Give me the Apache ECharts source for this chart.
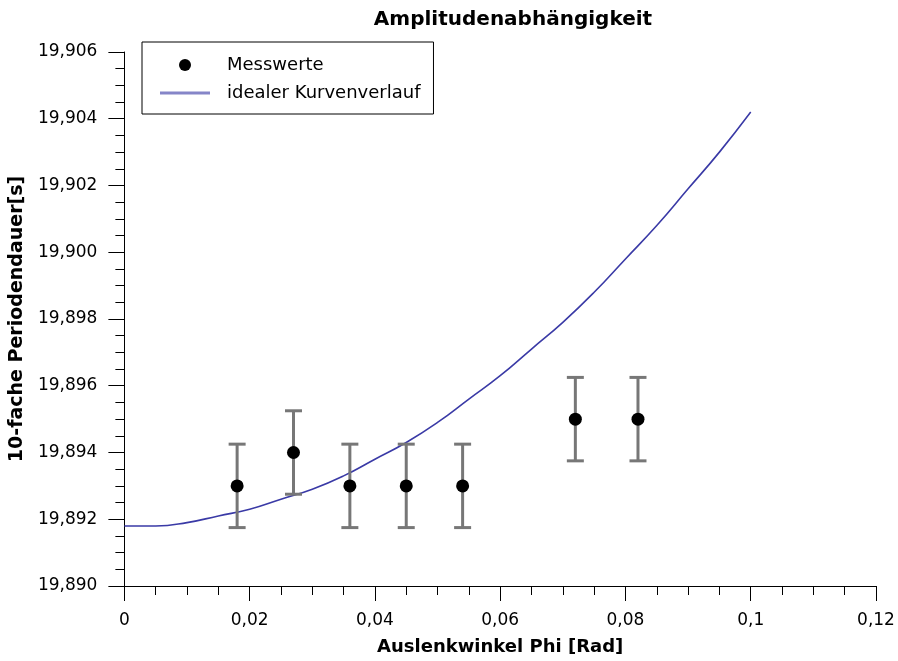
<!DOCTYPE html>
<html>
<head>
<meta charset="utf-8">
<script src="https://cdn.jsdelivr.net/npm/echarts@6/dist/echarts.min.js"></script>
<style>
  html, body { margin: 0; padding: 0; background: #fff; }
  #chart { width: 898px; height: 661px; }
</style>
</head>
<body>
<div id="chart"></div>
<script>
// Messwerte (Auslenkwinkel in rad, 10-fache Periodendauer in s)
const phiMess = [0.018, 0.027, 0.036, 0.045, 0.054, 0.072, 0.082];
const tMess = [19.893, 19.894, 19.893, 19.893, 19.893, 19.895, 19.895];
const tFehler = [0.00125, 0.00125, 0.00125, 0.00125, 0.00125, 0.00125, 0.00125];

// idealer Kurvenverlauf
const phiKurve = [0, 0.005, 0.01, 0.015, 0.02, 0.025, 0.03, 0.035, 0.04, 0.045, 0.05,
  0.055, 0.06, 0.065, 0.07, 0.075, 0.08, 0.085, 0.09, 0.095, 0.1];
const tKurve = [19.8918, 19.8918, 19.8919, 19.8921, 19.8923, 19.8926, 19.8929, 19.8933,
  19.8938, 19.8943, 19.8949, 19.8956, 19.8963, 19.8971, 19.8979, 19.8988, 19.8998,
  19.9008, 19.9019, 19.9030, 19.9042];

const FONT = "DejaVu Sans";

const chart = echarts.init(document.getElementById("chart"));

chart.setOption({
  animation: false,
  backgroundColor: "#fff",
  title: {
    text: "Amplitudenabhängigkeit",
    left: 508,
    textAlign: "center",
    top: 5,
    textStyle: { fontFamily: FONT, fontSize: 20, fontWeight: "bold", color: "#000" }
  },
  legend: {
    orient: "vertical",
    left: 142,
    top: 42,
    padding: [14, 13, 12, 18],
    borderColor: "#000",
    borderWidth: 1,
    itemWidth: 50,
    itemHeight: 12,
    itemGap: 10,
    textStyle: { fontFamily: FONT, fontSize: 18, color: "#000", padding: [0, 0, 0, 12] },
    data: [
      { name: "Messwerte", icon: "circle" },
      { name: "idealer Kurvenverlauf", icon: "path://M0,0 L50,0 L50,3 L0,3 Z" }
    ]
  },
  grid: { left: 124, right: 22, top: 52, bottom: 73 },
  xAxis: {
    type: "value",
    min: 0,
    max: 0.12,
    interval: 0.02,
    name: "Auslenkwinkel Phi [Rad]",
    nameLocation: "middle",
    nameGap: 52,
    nameTextStyle: { fontFamily: FONT, fontSize: 18, fontWeight: "bold", color: "#000" },
    axisLine: { lineStyle: { color: "#000", width: 1 } },
    axisTick: { length: 15, lineStyle: { color: "#000" } },
    minorTick: { show: true, splitNumber: 4, length: 9, lineStyle: { color: "#000" } },
    splitLine: { show: false },
    axisLabel: {
      margin: 26,
      fontFamily: FONT,
      fontSize: 17,
      color: "#000",
      formatter: v => String(Number(v.toFixed(2))).replace(".", ",")
    }
  },
  yAxis: {
    type: "value",
    min: 19.890,
    max: 19.906,
    interval: 0.002,
    name: "10-fache Periodendauer[s]",
    nameLocation: "middle",
    nameGap: 88,
    nameTextStyle: { fontFamily: FONT, fontSize: 19, fontWeight: "bold", color: "#000" },
    axisLine: { show: true, lineStyle: { color: "#000", width: 1 } },
    axisTick: { show: true, length: 16, lineStyle: { color: "#000" } },
    minorTick: { show: true, splitNumber: 4, length: 9, lineStyle: { color: "#000" } },
    splitLine: { show: false },
    axisLabel: {
      margin: 27,
      fontFamily: FONT,
      fontSize: 17,
      color: "#000",
      formatter: v => v.toFixed(3).replace(".", ",")
    }
  },
  series: [
    {
      name: "idealer Kurvenverlauf",
      type: "line",
      smooth: true,
      symbol: "none",
      lineStyle: { color: "#3a3aa6", width: 1.6 },
      itemStyle: { color: "#8585c8" },
      data: phiKurve.map((x, i) => [x, tKurve[i]]),
      z: 2
    },
    {
      name: "Fehlerbalken",
      type: "custom",
      data: phiMess.map((x, i) => [x, tMess[i] - tFehler[i], tMess[i] + tFehler[i]]),
      renderItem: (params, api) => {
        const lo = api.coord([api.value(0), api.value(1)]);
        const hi = api.coord([api.value(0), api.value(2)]);
        const w = 8.5;
        const style = { stroke: "#777", lineWidth: 3 };
        return {
          type: "group",
          children: [
            { type: "line", shape: { x1: lo[0], y1: lo[1], x2: hi[0], y2: hi[1] }, style },
            { type: "line", shape: { x1: lo[0] - w, y1: lo[1], x2: lo[0] + w, y2: lo[1] }, style },
            { type: "line", shape: { x1: hi[0] - w, y1: hi[1], x2: hi[0] + w, y2: hi[1] }, style }
          ]
        };
      },
      z: 3
    },
    {
      name: "Messwerte",
      type: "scatter",
      symbol: "circle",
      symbolSize: 13,
      itemStyle: { color: "#000", opacity: 1 },
      data: phiMess.map((x, i) => [x, tMess[i]]),
      z: 4
    }
  ]
});
</script>
</body>
</html>
